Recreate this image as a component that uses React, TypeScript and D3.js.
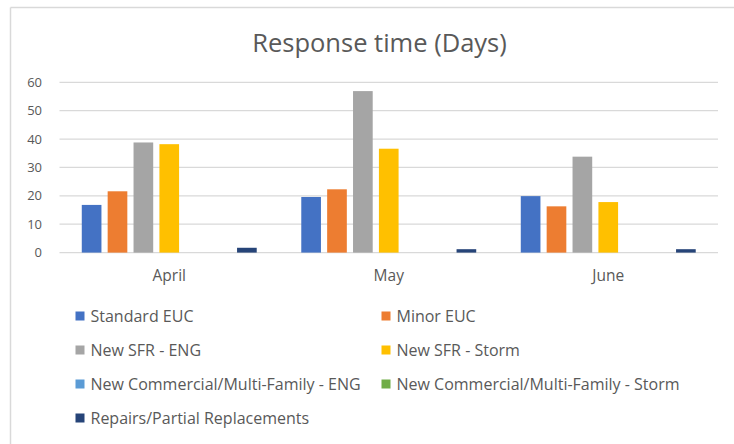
import React from "react";
import * as d3 from "d3";

const categories = ["April", "May", "June"];
const seriesNames = [
  "Standard EUC",
  "Minor EUC",
  "New SFR - ENG",
  "New SFR - Storm",
  "New Commercial/Multi-Family - ENG",
  "New Commercial/Multi-Family - Storm",
  "Repairs/Partial Replacements",
];
const seriesColors = ["#4472C4", "#ED7D31", "#A5A5A5", "#FFC000", "#5B9BD5", "#70AD47", "#264478"];
const standardEUC = [16.8, 19.6, 19.9];
const minorEUC = [21.6, 22.3, 16.3];
const newSfrEng = [38.8, 56.9, 33.8];
const newSfrStorm = [38.2, 36.6, 17.8];
const newCommEng = [0, 0, 0];
const newCommStorm = [0, 0, 0];
const repairs = [1.7, 1.2, 1.2];
const seriesValues = [standardEUC, minorEUC, newSfrEng, newSfrStorm, newCommEng, newCommStorm, repairs];
const yTicks = [0, 10, 20, 30, 40, 50, 60];

const W = 734;
const H = 444;
const FONT = "'Open Sans', 'Noto Sans', sans-serif";

export default function App() {
  const plotLeft = 59.5;
  const plotRight = 718;
  const y = d3.scaleLinear().domain([0, 60]).range([252.6, 82.3]);
  const x0 = d3.scaleBand<string>().domain(categories).range([plotLeft, plotRight]).padding(0);
  const groupW = x0.bandwidth() * 0.797;
  const x1 = d3
    .scaleBand<number>()
    .domain(d3.range(seriesNames.length))
    .range([0, groupW])
    .paddingInner(0.24)
    .paddingOuter(0);

  const legendCols = [75.5, 381.5];
  const legendRows = [316, 350, 384, 418];

  return (
    <div style={{ position: "absolute", left: 0, top: 0 }}>
      <svg width={W} height={H} style={{ display: "block", background: "#fff" }}>
        <line x1={10.5} x2={W} y1={7.5} y2={7.5} stroke="#d9d9d9" strokeWidth={1.5} />
        <line x1={10.5} x2={10.5} y1={7.5} y2={H} stroke="#d9d9d9" strokeWidth={1.5} />
        <text x={379.5} y={52} textAnchor="middle" fontFamily={FONT} fontSize={25.5} fill="#595959">
          Response time (Days)
        </text>
        {yTicks.map((t) => (
          <g key={t}>
            <line x1={plotLeft} x2={plotRight} y1={y(t)} y2={y(t)} stroke="#d9d9d9" strokeWidth={1.3} />
            <text x={42} y={y(t) + 4.5} textAnchor="end" fontFamily={FONT} fontSize={13} fill="#595959">
              {t}
            </text>
          </g>
        ))}
        {categories.map((c, ci) => {
          const gx = (x0(c) as number) + (x0.bandwidth() - groupW) / 2;
          return (
            <g key={c}>
              {seriesValues.map((vals, si) =>
                vals[ci] > 0 ? (
                  <rect
                    key={si}
                    x={gx + (x1(si) as number)}
                    y={y(vals[ci])}
                    width={x1.bandwidth()}
                    height={y(0) - y(vals[ci])}
                    fill={seriesColors[si]}
                  />
                ) : null
              )}
              <text
                x={(x0(c) as number) + x0.bandwidth() / 2}
                y={281}
                textAnchor="middle"
                fontFamily={FONT}
                fontSize={15.5}
                fill="#595959"
              >
                {c}
              </text>
            </g>
          );
        })}
        {seriesNames.map((name, i) => {
          const lx = legendCols[i % 2];
          const ly = legendRows[Math.floor(i / 2)];
          return (
            <g key={name}>
              <rect x={lx} y={ly - 4.5} width={9} height={9} fill={seriesColors[i]} />
              <text x={lx + 15} y={ly + 5.5} fontFamily={FONT} fontSize={16} fill="#595959">
                {name}
              </text>
            </g>
          );
        })}
      </svg>
    </div>
  );
}
